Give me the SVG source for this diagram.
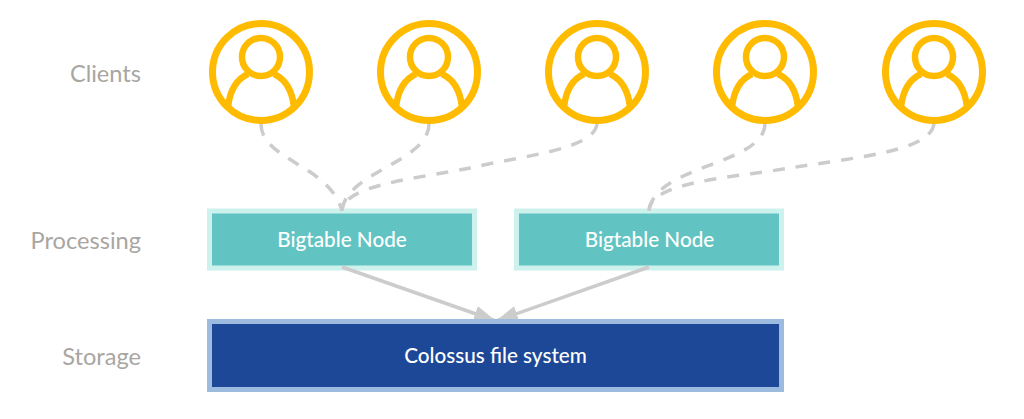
<svg xmlns="http://www.w3.org/2000/svg" width="1024" height="419" viewBox="0 0 1024 419">
<style>
text{font-family:"Lato","Open Sans",sans-serif}
.lane{font-size:23.600px;fill:#a9a6a1;text-anchor:end}
.lbl{font-size:20.700px;font-weight:500;fill:#fff;text-anchor:middle}
.ring{fill:#fff;stroke:#ffbb00;stroke-width:7}
.ic{fill:none;stroke:#ffbb00;stroke-width:6.500}
.dash{fill:none;stroke:#cccccc;stroke-width:3.500;stroke-dasharray:12 11}
.solid{fill:none;stroke:#cccccc;stroke-width:3.500}
.bt{fill:#61c4c2;stroke:#cdf2ee;stroke-width:5}
.cfs{fill:#1c4897;stroke:#9cbbdf;stroke-width:5}
</style>
<defs>
<g id="user">
<circle class="ring" cx="0" cy="0" r="48.500"/>
<circle class="ic" cx="0" cy="-15" r="19"/>
<path class="ic" d="M-33 35C-31 17-24 7-13 2M33 35C31 17 24 7 13 2"/>
</g>
<marker id="ah" markerUnits="userSpaceOnUse" markerWidth="24" markerHeight="20" refX="22" refY="9" orient="auto"><path d="M0 1L22 9L0 17Z" fill="#cccccc"/></marker>
</defs>
<g id="node-1"><rect class="bt" x="209.500" y="211" width="265" height="57"/><text class="lbl" x="342" y="247">Bigtable Node</text></g>
<g id="node-2"><rect class="bt" x="516.500" y="211" width="265" height="57"/><text class="lbl" x="649.500" y="247">Bigtable Node</text></g>
<g id="connectors">
<path class="dash" d="M261 124C261 160 330 165 342 211"/>
<path class="dash" d="M429 124C429 162 345 172 342 211"/>
<path class="dash" d="M597 124C594 150 520 156 470 168C420 178 342 185 342 211"/>
<path class="dash" d="M765 124C764 165 654 165 649 211"/>
<path class="dash" d="M934 124C930 152 850 158 790 168C730 178 649 182 649 211"/>
<path class="solid" marker-end="url(#ah)" d="M342 267L496 321"/>
<path class="solid" marker-end="url(#ah)" d="M649 267L496 321"/>
</g>
<g id="client-1"><use href="#user" x="261" y="72"/></g>
<g id="client-2"><use href="#user" x="429" y="72"/></g>
<g id="client-3"><use href="#user" x="597" y="72"/></g>
<g id="client-4"><use href="#user" x="765" y="72"/></g>
<g id="client-5"><use href="#user" x="934" y="72"/></g>
<g id="storage"><rect class="cfs" x="209.500" y="321.500" width="572" height="68"/><text class="lbl" x="495.500" y="363">Colossus file system</text></g>
<g id="lanes">
<text class="lane" x="141" y="82">Clients</text>
<text class="lane" x="141" y="249">Processing</text>
<text class="lane" x="141" y="365">Storage</text>
</g>
</svg>
